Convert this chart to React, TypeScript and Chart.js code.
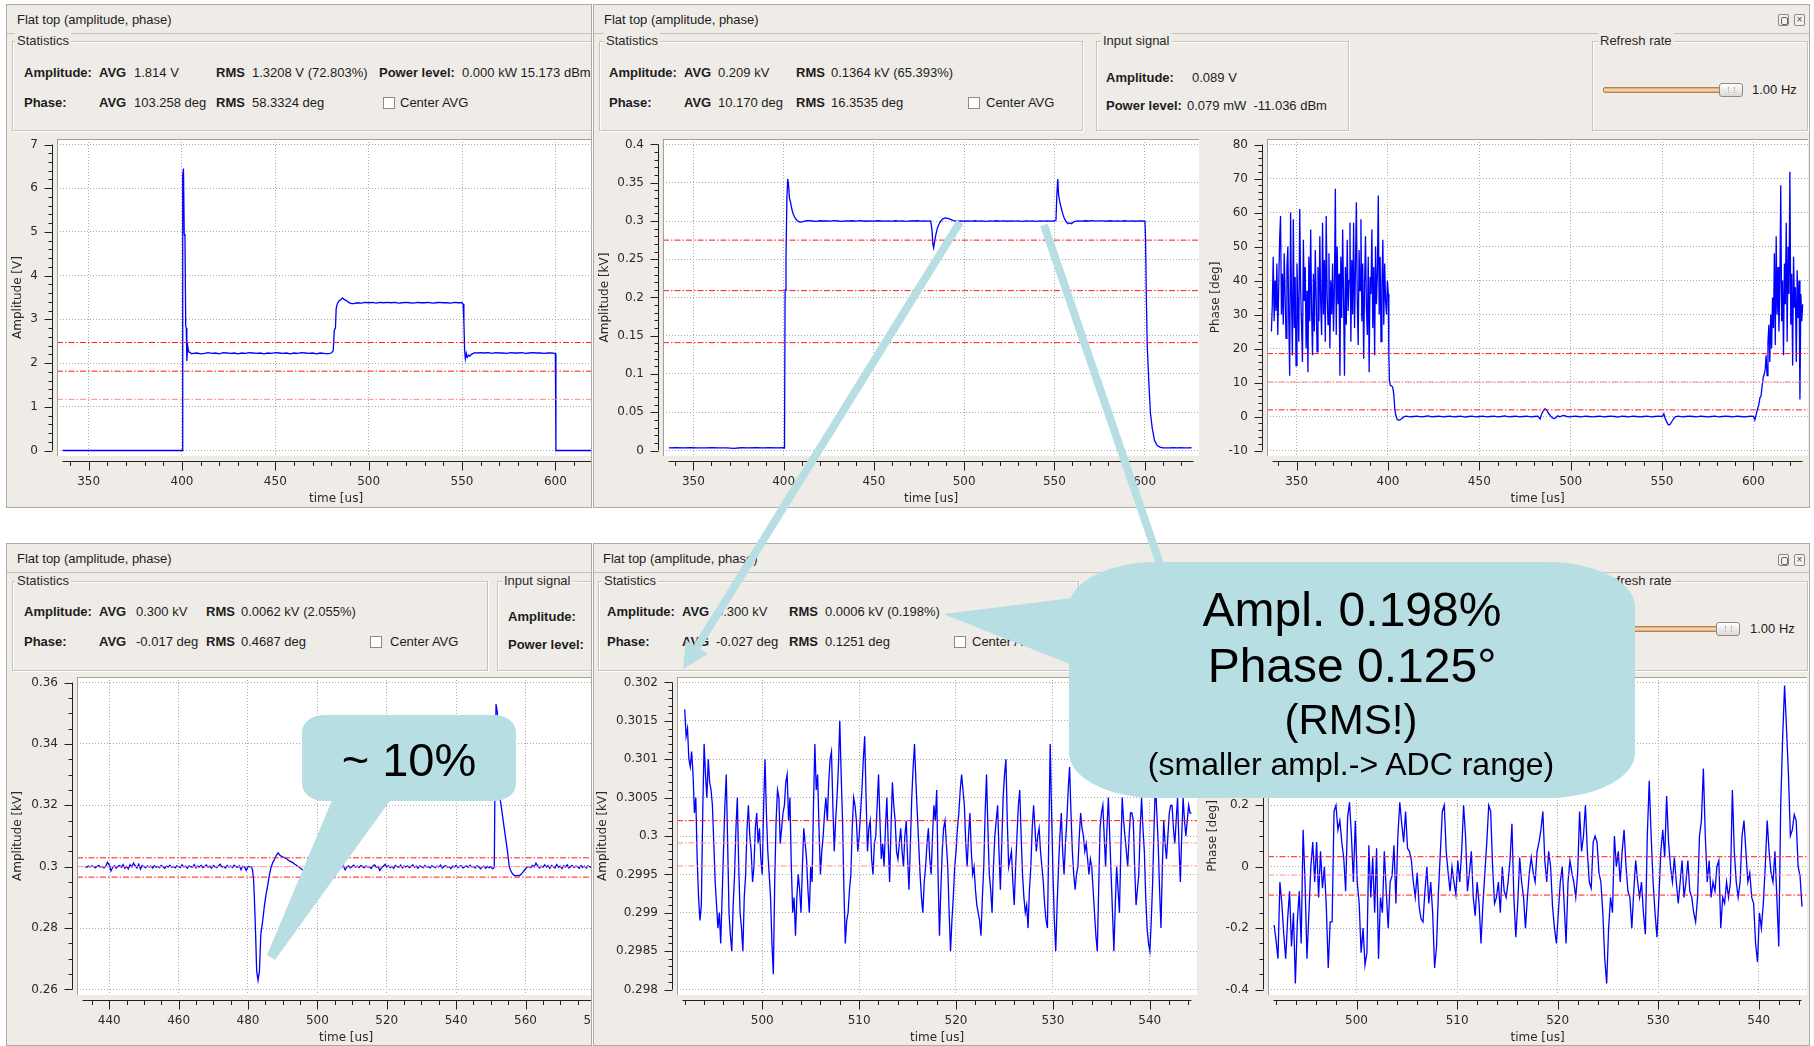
import React, { useEffect, useRef } from 'react';
import { Chart, registerables } from 'chart.js';

Chart.register(...registerables);

const GUI_FONT = '"Liberation Sans", Arial, Helvetica, sans-serif';
const AX_FONT = '"DejaVu Sans", Verdana, sans-serif';
const BG = '#efece8';
const EDGE = '#c6c2bc';
const CALLOUT = '#b7dee3';
Chart.defaults.font.family = AX_FONT;

// ======================= DATA =======================
// ---- top-left: Amplitude [V] ----
const TL_Y_TICKS = [0, 1, 2, 3, 4, 5, 6, 7];
const TL_X_TICKS = [350, 400, 450, 500, 550, 600, 650];
const TL_LEVELS = [2.47, 1.814, 1.17];
const TL_EDGE1_T = [336, 400.2, 400.4, 400.8, 401.2, 401.6, 402.0, 402.3, 402.6, 403.0, 403.4, 403.8, 404.5, 405.2, 406];
const TL_EDGE1_V = [0, 0, 6.30, 6.45, 4.95, 4.90, 2.85, 2.80, 2.05, 2.40, 2.30, 2.25, 2.24, 2.21, 2.22];
const TL_FLAT1 = [2.23, 2.21, 2.22, 2.24, 2.22, 2.23, 2.21, 2.24, 2.23, 2.22, 2.23, 2.21, 2.23, 2.22, 2.24, 2.23, 2.22, 2.23, 2.21, 2.23, 2.22, 2.24, 2.23, 2.22, 2.23, 2.21, 2.23, 2.22, 2.24, 2.23, 2.22, 2.23, 2.21, 2.23, 2.22, 2.21, 2.23];
const TL_EDGE2_T = [481, 481.6, 482.2, 482.6, 483.2, 484, 485, 486, 487, 488, 489, 490, 491, 492];
const TL_EDGE2_V = [2.28, 2.75, 2.80, 3.25, 3.35, 3.42, 3.45, 3.49, 3.45, 3.43, 3.40, 3.37, 3.36, 3.36];
const TL_FLAT2 = [3.38, 3.37, 3.39, 3.38, 3.39, 3.37, 3.39, 3.38, 3.39, 3.38, 3.39, 3.37, 3.38, 3.39, 3.38, 3.37, 3.39, 3.38, 3.38, 3.39, 3.37, 3.38, 3.39, 3.38, 3.38, 3.37, 3.39, 3.38, 3.38];
const TL_EDGE3_T = [550.6, 551.0, 551.4, 551.8, 552.3, 552.8, 553.5, 554.2, 555, 556, 557];
const TL_EDGE3_V = [3.35, 2.95, 2.30, 2.10, 2.22, 2.13, 2.18, 2.16, 2.20, 2.22, 2.24];
const TL_FLAT3 = [2.23, 2.24, 2.23, 2.24, 2.22, 2.24, 2.23, 2.23, 2.22, 2.24, 2.23, 2.23, 2.24, 2.22, 2.23, 2.24, 2.23, 2.23, 2.22, 2.23, 2.23, 2.22];
const TL_EDGE4_T = [600.3, 629];
const TL_EDGE4_V = [0, 0];

// ---- top-middle: Amplitude [kV] ----
const TM_Y_TICKS = [0, 0.05, 0.1, 0.15, 0.2, 0.25, 0.3, 0.35, 0.4];
const TM_X_TICKS = [350, 400, 450, 500, 550, 600];
const TM_LEVELS = [0.275, 0.209, 0.141];
const TM_BASE1 = [0.0035, 0.0036, 0.0034, 0.0036, 0.0035, 0.0034, 0.0036, 0.0035, 0.0034, 0.0028, 0.0036, 0.0035, 0.0036, 0.0034, 0.0036, 0.0035];
const TM_EDGE1_T = [399.8, 400.2, 400.5, 400.8, 401.3, 401.8, 402.3, 402.8, 403.2, 403.8, 404.5, 405.3, 406.3, 407.3, 408.5, 410];
const TM_EDGE1_V = [0.0036, 0.0030, 0.02, 0.21, 0.25, 0.33, 0.355, 0.345, 0.33, 0.325, 0.316, 0.309, 0.304, 0.301, 0.299, 0.2985];
const TM_FLAT1 = [0.3000, 0.3005, 0.3000, 0.2995, 0.3003, 0.3000, 0.3002, 0.2998, 0.3004, 0.3000, 0.2996, 0.3002, 0.3000, 0.3003, 0.2998, 0.3004, 0.3000, 0.2997, 0.3002, 0.2998, 0.3003, 0.3000, 0.2998, 0.3002, 0.2999, 0.3003, 0.2998, 0.3001, 0.2996, 0.3002, 0.3000, 0.3003, 0.2999, 0.3001, 0.2999];
const TM_EDGE2_T = [481.5, 482.2, 482.7, 483.1, 483.6, 484.3, 485.2, 486.5, 488, 489.5, 491, 492.5, 494, 496];
const TM_EDGE2_V = [0.3000, 0.288, 0.270, 0.265, 0.272, 0.282, 0.291, 0.298, 0.3025, 0.304, 0.3035, 0.302, 0.3005, 0.2998];
const TM_FLAT2 = [0.3002, 0.2997, 0.3001, 0.2999, 0.3003, 0.2998, 0.3002, 0.2996, 0.3001, 0.2999, 0.3003, 0.2998, 0.3001, 0.2997, 0.3002, 0.2999, 0.3001, 0.2996, 0.3002, 0.2999, 0.3001, 0.2995, 0.3001, 0.2999, 0.3002, 0.2998, 0.3000];
const TM_EDGE3_T = [550.9, 551.4, 551.9, 552.3, 553, 553.8, 554.7, 555.6, 556.6, 557.6, 558.6, 559.6, 560.5, 561.5];
const TM_EDGE3_V = [0.3012, 0.335, 0.355, 0.335, 0.325, 0.317, 0.309, 0.303, 0.299, 0.2965, 0.2975, 0.2965, 0.2985, 0.2995];
const TM_FLAT3 = [0.3002, 0.2998, 0.3003, 0.3000, 0.3004, 0.2998, 0.3002, 0.3001, 0.2997, 0.3003, 0.2999, 0.3002, 0.2998, 0.3003, 0.2999, 0.3001, 0.2997, 0.3002, 0.3000];
const TM_EDGE4_T = [600.2, 600.5, 601.0, 601.5, 602.3, 603.2, 604.2, 605.5, 607, 608.5, 610];
const TM_EDGE4_V = [0.2995, 0.280, 0.195, 0.135, 0.092, 0.050, 0.030, 0.013, 0.0065, 0.0045, 0.0036];
const TM_BASE2 = [0.0035, 0.0034, 0.0036, 0.0035, 0.0036, 0.0034, 0.0035, 0.0036];

// ---- top-right: Phase [deg] ----
const TR_Y_TICKS = [-10, 0, 10, 20, 30, 40, 50, 60, 70, 80];
const TR_X_TICKS = [350, 400, 450, 500, 550, 600];
const TR_LEVELS = [18.5, 10.17, 1.95];
const TR_NOISE1 = [25, 33, 47, 28, 40, 31, 45, 24, 38, 52,
  59, 30, 42, 27, 48, 36, 23, 44, 50, 29,
  12, 60, 35, 18, 58, 26, 41, 15, 45, 33,
  22, 61, 38, 27, 16, 52, 34, 44, 20, 37,
  13, 47, 28, 55, 31, 18, 42, 25, 49, 35,
  19, 44, 28, 53, 33, 24, 57, 30, 46, 22,
  59, 36, 27, 48, 20, 40, 30, 45, 25, 38,
  67, 24, 50, 33, 42, 12, 47, 29, 55, 35,
  12, 44, 27, 52, 31, 40, 57, 22, 46, 30,
  57, 26, 43, 63, 34, 21, 49, 37, 58, 28,
  45, 17, 39, 53, 32, 24, 47, 13, 41, 36,
  55, 26, 44, 18, 50, 33, 42, 65, 30, 47,
  22, 38, 52, 27, 45, 34, 30, 40, 36];
const TR_EDGE1_T = [400.5, 400.8, 401.3, 402, 402.6, 403.2, 403.7, 404.2, 405, 406, 407, 408, 409];
const TR_EDGE1_V = [18, 10.5, 9.2, 9.0, 8.6, 6.5, 2.5, 0.5, -0.8, -1.1, -0.9, -0.4, 0.0];
const TR_FLAT1 = [0.1, -0.1, 0.0, 0.1, -0.1, 0.0, 0.2, -0.1, 0.0, 0.1, -0.1, 0.0, 0.1, -0.1, 0.0, 0.1, -0.2, 0.0, 0.1, -0.1, 0.0, 0.1, -0.1, 0.0, 0.1, -0.1, 0.0, 0.2, -0.1, 0.0, 0.1, -0.1, 0.0, 0.1, -0.1, 0.0, 0.1];
const TR_EDGE2_T = [483.3, 484, 485, 486, 487, 488, 489, 490, 491, 492, 493];
const TR_EDGE2_V = [-0.7, 0.6, 1.6, 2.3, 1.8, 0.8, 0.2, -0.4, -0.6, -0.3, 0.2];
const TR_FLAT2 = [-0.1, 0.3, 0.0, -0.1, 0.1, 0.0, -0.1, 0.1, 0.0, -0.1, 0.0, 0.1, -0.1, 0.0, 0.1, 0.0, -0.2, 0.1, 0.0, -0.1, 0.1, 0.0, -0.1, 0.0, 0.1, -0.1, 0.0, 0.1, 0.0];
const TR_EDGE3_T = [551, 551.5, 552.5, 553.5, 554.5, 555.5, 556.5, 557.5];
const TR_EDGE3_V = [0.8, -0.2, -1.5, -2.5, -2.3, -1.4, -0.5, 0.0];
const TR_FLAT3 = [0.1, -0.1, 0.0, 0.1, 0.0, -0.1, 0.1, 0.0, -0.1, 0.0, 0.1, -0.1, 0.0, 0.1, 0.0, -0.1, 0.1, 0.0, -0.1, 0.0, 0.1];
const TR_EDGE4_T = [600.2, 600.8, 601.5, 602.2, 603, 603.6, 604.2, 604.8, 605.4, 606];
const TR_EDGE4_V = [0.0, -1.0, 0.5, 2.0, 3.5, 5.5, 6.0, 9.0, 11.5, 12.5];
const TR_NOISE2 = [14, 18, 12, 22, 27, 16, 30, 20, 35, 26,
  48, 21, 53, 30, 44, 25, 38, 68, 28, 40,
  18, 45, 33, 57, 22, 50, 36, 72, 27, 42,
  15, 47, 32, 38, 16, 43, 29, 40, 5, 36,
  28, 33];

// ---- bottom-left: Amplitude [kV] zoom ----
const BL_Y_TICKS = [0.26, 0.28, 0.3, 0.32, 0.34, 0.36];
const BL_X_TICKS = [440, 460, 480, 500, 520, 540, 560, 580];
const BL_LEVELS = [0.3029, 0.3000, 0.2966];
const BL_NOISE1 = [0.3000, 0.2998, 0.3002, 0.2999, 0.3003, 0.3000, 0.2997, 0.3001, 0.3004, 0.2999,
  0.3001, 0.2996, 0.3002, 0.3014, 0.3006, 0.2986, 0.2998, 0.3003, 0.2995, 0.3001,
  0.3004, 0.2998, 0.3007, 0.2995, 0.3001, 0.2993, 0.3006, 0.2999, 0.3012, 0.3003,
  0.2996, 0.3008, 0.2992, 0.3004, 0.3000, 0.2997, 0.3003, 0.2999, 0.3002, 0.2996,
  0.3003, 0.2998, 0.3001, 0.2997, 0.3004, 0.3000, 0.2995, 0.3002, 0.2999, 0.3005,
  0.2998, 0.3001, 0.2996, 0.3003, 0.3000, 0.2997, 0.3006, 0.2999, 0.3002, 0.2995,
  0.3003, 0.3000, 0.2998, 0.3007, 0.2996, 0.3002, 0.2999, 0.3004, 0.2997, 0.3001,
  0.3006, 0.2998, 0.3002, 0.2995, 0.3004, 0.3000, 0.2997, 0.3003, 0.3008, 0.2999,
  0.3001, 0.2996, 0.3004, 0.2999, 0.3002, 0.2997, 0.3005, 0.3000, 0.2998, 0.3003,
  0.2990, 0.3002, 0.2999, 0.2988, 0.3001, 0.3000, 0.2999];
const BL_EDGE1_T = [481.3, 481.6, 481.9, 482.2, 482.5, 482.9, 483.3, 483.7, 484.2, 484.7, 485.2, 485.7, 486.2, 486.7, 487.2, 487.7, 488.2, 488.7, 489.2, 489.8, 490.5, 491.2, 492, 492.8, 493.5, 494.2, 495, 495.7, 496.4, 497, 497.6];
const BL_EDGE1_V = [0.2990, 0.2960, 0.2880, 0.2780, 0.2660, 0.2630, 0.2660, 0.2780, 0.2820, 0.2870, 0.2910, 0.2940, 0.2975, 0.3000, 0.3015, 0.3025, 0.3038, 0.3045, 0.3037, 0.3033, 0.3030, 0.3025, 0.3018, 0.3014, 0.3008, 0.3003, 0.2996, 0.2990, 0.2985, 0.2992, 0.2998];
const BL_NOISE2 = [0.3001, 0.2997, 0.3003, 0.2998, 0.3005, 0.2996, 0.3002, 0.3000, 0.2993, 0.3004,
  0.3000, 0.2997, 0.3006, 0.2999, 0.3002, 0.2995, 0.3001, 0.3004, 0.2998, 0.3003,
  0.2990, 0.2999, 0.3003, 0.2996, 0.3001, 0.3005, 0.2998, 0.3002, 0.2997, 0.3004,
  0.3001, 0.2996, 0.3003, 0.2999, 0.3000, 0.2994, 0.3002, 0.3006, 0.2998, 0.3001,
  0.2988, 0.2996, 0.3002, 0.3008, 0.2999, 0.3003, 0.2997, 0.3001, 0.2995, 0.3004,
  0.3000, 0.2998, 0.3005, 0.2996, 0.3002, 0.2999, 0.3003, 0.2997, 0.3001, 0.3006,
  0.2998, 0.3002, 0.2995, 0.3003, 0.3000, 0.2997, 0.3004, 0.2999, 0.3001, 0.2996,
  0.3003, 0.3000, 0.2997, 0.3002, 0.2999, 0.3005, 0.2996, 0.3001, 0.3003, 0.2998,
  0.3000, 0.2994, 0.3002, 0.2999, 0.3004, 0.2997, 0.3001, 0.3003, 0.2996, 0.3000,
  0.3002, 0.2998, 0.3005, 0.2999, 0.3001, 0.2996, 0.3003, 0.3000, 0.2993, 0.2999,
  0.3002, 0.2995, 0.3001, 0.2997, 0.3000, 0.2993, 0.2998];
const BL_EDGE2_T = [551.2, 551.5, 551.9, 552.3, 552.7, 553.2, 553.8, 554.3, 554.8, 555.3, 555.8, 556.3, 556.8, 557.3, 557.8, 558.3, 558.8, 559.3, 559.8, 560.3];
const BL_EDGE2_V = [0.3300, 0.3530, 0.3500, 0.3350, 0.3220, 0.3180, 0.3130, 0.3090, 0.3050, 0.3000, 0.2985, 0.2976, 0.2972, 0.2970, 0.2972, 0.2971, 0.2976, 0.2983, 0.2990, 0.2997];
const BL_NOISE3 = [0.3001, 0.2997, 0.3004, 0.2999, 0.3012, 0.3003, 0.2996, 0.3002, 0.2998, 0.3006,
  0.2999, 0.3003, 0.2995, 0.3004, 0.3000, 0.2996, 0.3007, 0.2998, 0.3002, 0.2994,
  0.3003, 0.2999, 0.3006, 0.2996, 0.3001, 0.3004, 0.2997, 0.3002, 0.3000, 0.2995,
  0.3004, 0.2998, 0.3002, 0.2996, 0.3003, 0.3000, 0.2997, 0.3005, 0.2999, 0.3001,
  0.2996, 0.3003, 0.3000, 0.2998, 0.3004, 0.2999, 0.3001, 0.2997, 0.3002, 0.3000,
  0.2999];

// ---- bottom-middle: Amplitude [kV] flat-top noise ----
const BM_Y_TICKS = [0.298, 0.2985, 0.299, 0.2995, 0.3, 0.3005, 0.301, 0.3015, 0.302];
const BM_X_TICKS = [500, 510, 520, 530, 540];
const BM_LEVELS = [0.30020, 0.29991, 0.29961];
const BM_T0 = 492.0;
const BM_DT = 0.1429;
const BM_VALUES = [
  0.30165, 0.3013, 0.3014, 0.3010, 0.3009, 0.3011, 0.3008, 0.3003, 0.3005, 0.2997, 0.2992, 0.2989, 0.2991, 0.3003, 0.3012, 0.3008, 0.3005, 0.3010, 0.3007, 0.3006,
  0.3004, 0.2999, 0.2994, 0.2991, 0.2988, 0.2990, 0.2986, 0.2992, 0.2998, 0.3004, 0.3008, 0.2999, 0.2990, 0.2987, 0.2985, 0.2991, 0.2995, 0.3001, 0.3005, 0.2996,
  0.2990, 0.2988, 0.2985, 0.2992, 0.2995, 0.3001, 0.3004, 0.3000, 0.2998, 0.2994, 0.2996, 0.3001, 0.3003, 0.2999, 0.3001, 0.2997, 0.2995, 0.3004, 0.3010, 0.3003,
  0.2998, 0.2995, 0.2992, 0.2986, 0.2982, 0.2994, 0.3002, 0.3006, 0.3005, 0.2999, 0.3001, 0.3003, 0.3004, 0.3007, 0.3008, 0.3002, 0.3005, 0.2996, 0.2990, 0.2992,
  0.2987, 0.2992, 0.2995, 0.2993, 0.2990, 0.2996, 0.3001, 0.2999, 0.2997, 0.2993, 0.2990, 0.2996, 0.2994, 0.3004, 0.3012, 0.3006, 0.3008, 0.3001, 0.2995, 0.2998,
  0.3000, 0.3003, 0.3005, 0.3002, 0.3007, 0.3010, 0.3011, 0.3004, 0.2998, 0.3002, 0.3005, 0.3009, 0.3015, 0.3008, 0.3002, 0.2993, 0.2986, 0.2989, 0.2990, 0.2993,
  0.2995, 0.3001, 0.3005, 0.3004, 0.3002, 0.2998, 0.3000, 0.3003, 0.3006, 0.3010, 0.3013, 0.3005, 0.2998, 0.3001, 0.3002, 0.2997, 0.2995, 0.2999, 0.3000, 0.3004,
  0.3008, 0.3002, 0.2997, 0.2999, 0.2996, 0.3001, 0.3005, 0.2999, 0.2994, 0.3001, 0.3007, 0.3004, 0.3002, 0.2998, 0.2997, 0.2999, 0.3001, 0.2998, 0.2996, 0.3000,
  0.3002, 0.2997, 0.2993, 0.2999, 0.3005, 0.3009, 0.3012, 0.3007, 0.3003, 0.2999, 0.2995, 0.2992, 0.2990, 0.2994, 0.2996, 0.2999, 0.3001, 0.2997, 0.2995, 0.3000,
  0.3004, 0.3002, 0.3006, 0.2995, 0.2987, 0.2993, 0.2998, 0.3001, 0.3002, 0.2999, 0.2996, 0.2990, 0.2985, 0.2989, 0.2992, 0.2996, 0.2998, 0.3001, 0.3003, 0.3006,
  0.3008, 0.3006, 0.3004, 0.2999, 0.2996, 0.3000, 0.3003, 0.2998, 0.2995, 0.2996, 0.2993, 0.2991, 0.2990, 0.2989, 0.2987, 0.2992, 0.2996, 0.3003, 0.3008, 0.3001,
  0.2995, 0.2993, 0.2990, 0.2996, 0.3000, 0.3002, 0.3004, 0.2998, 0.2993, 0.2999, 0.3005, 0.3008, 0.3010, 0.3002, 0.2996, 0.2997, 0.2998, 0.2994, 0.2991, 0.2996,
  0.3000, 0.3004, 0.3006, 0.3000, 0.2995, 0.2992, 0.2990, 0.2991, 0.2988, 0.2993, 0.2996, 0.3001, 0.3004, 0.3001, 0.2998, 0.3000, 0.3001, 0.2998, 0.2996, 0.2994,
  0.2991, 0.2989, 0.2988, 0.3000, 0.3012, 0.3003, 0.2995, 0.2989, 0.2985, 0.2991, 0.2996, 0.3000, 0.3003, 0.2998, 0.2995, 0.2999, 0.3002, 0.3006, 0.3009, 0.3003,
  0.2998, 0.2995, 0.2993, 0.2995, 0.2996, 0.3000, 0.3003, 0.3001, 0.3000, 0.2998, 0.2999, 0.2997, 0.2995, 0.2997, 0.2996, 0.2993, 0.2990, 0.2987, 0.2985, 0.2993,
  0.3001, 0.3003, 0.3004, 0.3000, 0.2996, 0.3001, 0.3005, 0.3000, 0.2995, 0.2990, 0.2985, 0.2991, 0.2996, 0.2993, 0.2990, 0.2998, 0.3005, 0.3002, 0.3000, 0.2998,
  0.2996, 0.3000, 0.3003, 0.3003, 0.3002, 0.2996, 0.2991, 0.2993, 0.2995, 0.3001, 0.3005, 0.3001, 0.2998, 0.2992, 0.2988, 0.2986, 0.2985, 0.2989, 0.2994, 0.3001,
  0.3007, 0.3003, 0.2999, 0.2993, 0.2988, 0.2996, 0.3002, 0.2999, 0.2997, 0.3000, 0.3003, 0.3004, 0.3004, 0.3001, 0.2999, 0.3002, 0.3005, 0.2999, 0.2994, 0.3000,
  0.3005, 0.3002, 0.3000, 0.3002, 0.3004, 0.3003, 0.3003];

// ---- bottom-right: Phase [deg] flat-top noise ----
const BR_Y_TICKS = [-0.4, -0.2, 0, 0.2, 0.4, 0.6];
const BR_X_TICKS = [500, 510, 520, 530, 540];
const BR_LEVELS = [0.0326, -0.027, -0.0924];
const BR_T0 = 491.8;
const BR_DT = 0.1923;
const BR_VALUES = [-0.19, -0.24, -0.30, -0.05, -0.12, -0.22, -0.30, -0.17, -0.08, -0.26,
  -0.15, -0.38, -0.18, -0.08, -0.25, 0.12, -0.05, -0.30, -0.15, 0.0,
  0.08, -0.05, 0.08, -0.10, 0.05, -0.07, 0.0, -0.13, -0.33, -0.18,
  -0.18, 0.18, 0.20, 0.12, 0.15, 0.08, 0.03, -0.08, 0.16, 0.21,
  0.10, -0.05, 0.15, -0.05, -0.12, -0.28, -0.20, -0.32, -0.28, 0.07,
  -0.10, 0.03, -0.15, 0.06, -0.30, -0.10, -0.15, 0.05, -0.08, -0.20,
  -0.05, -0.03, 0.07, -0.12, 0.10, 0.21, 0.14, 0.08, 0.18, 0.06,
  0.05, 0.02, -0.05, -0.10, -0.02, -0.13, -0.17, -0.18, -0.08, 0.0,
  -0.12, -0.05, -0.15, -0.33, -0.26, -0.08, 0.05, 0.18, 0.20, 0.05,
  -0.02, -0.08, 0.0, -0.05, -0.09, 0.02, -0.05, 0.05, 0.20, 0.10,
  -0.08, -0.02, 0.05, -0.10, -0.16, -0.05, -0.12, -0.25, -0.12, -0.02,
  0.08, 0.20, 0.18, 0.0, -0.12, -0.10, -0.05, -0.15, 0.0, -0.08,
  -0.10, -0.05, 0.02, 0.14, -0.10, -0.23, -0.12, 0.03, -0.05, -0.10,
  -0.20, -0.10, -0.02, 0.03, -0.02, -0.05, 0.05, 0.08, 0.12, 0.18,
  0.02, -0.05, 0.05, 0.0, -0.13, -0.20, -0.25, -0.15, -0.05, 0.0,
  -0.12, -0.25, -0.05, 0.02, -0.02, -0.05, -0.10, -0.02, 0.18, 0.05,
  0.10, 0.20, 0.05, -0.05, -0.07, 0.08, 0.10, 0.08, -0.02, -0.05,
  -0.15, -0.30, -0.38, -0.20, -0.10, -0.15, 0.10, 0.0, 0.05, -0.05,
  0.05, 0.12, 0.0, -0.08, -0.10, -0.20, -0.08, 0.02, -0.05, -0.10,
  -0.05, -0.15, -0.22, 0.10, 0.28, 0.10, -0.05, -0.15, -0.23, -0.10,
  0.05, 0.12, 0.03, 0.23, 0.08, 0.0, -0.05, 0.03, -0.05, -0.12,
  -0.05, 0.02, -0.10, -0.05, 0.02, -0.08, -0.10, -0.15, -0.18, -0.10,
  0.10, 0.15, 0.32, 0.10, -0.05, 0.02, -0.10, -0.05, -0.08, 0.0,
  0.02, -0.20, -0.10, -0.12, -0.05, -0.10, -0.05, 0.25, 0.05, -0.05,
  -0.10, -0.05, 0.10, 0.15, 0.05, -0.05, -0.02, -0.10, -0.12, -0.25,
  -0.31, -0.15, -0.20, -0.12, 0.0, 0.15, 0.05, -0.02, -0.05, 0.05,
  -0.10, -0.26, 0.20, 0.42, 0.59, 0.45, 0.30, 0.10, 0.12, 0.17,
  0.15, 0.0, -0.03, -0.13];

// ======================= HELPERS =======================
type Pt = { x: number; y: number };
const pairs = (ts: number[], vs: number[]): Pt[] => {
  const n = Math.min(ts.length, vs.length);
  const out: Pt[] = [];
  for (let i = 0; i < n; i++) out.push({ x: ts[i], y: vs[i] });
  return out;
};
const stepped = (t0: number, dt: number, vs: number[]): Pt[] =>
  vs.map((v, i) => ({ x: Math.round((t0 + i * dt) * 1e4) / 1e4, y: v }));
const fmt = (v: number) => String(parseFloat(v.toFixed(6)));

interface Spec {
  canvas: { x: number; y: number; w: number; h: number };
  yW: number; xH: number; padTop: number;
  xRange: [number, number]; yRange: [number, number];
  xTicks: number[]; yTicks: number[]; xMinor: number; yMinor: number;
  yTitle: string; yTitlePad: number;
  levels: number[]; levelColors: string[];
  series: Pt[];
}

const TL_SPEC: Spec = {
  canvas: { x: 6, y: 131, w: 609, h: 376 }, yW: 51, xH: 51, padTop: 8,
  xRange: [336, 629], yRange: [0, 7], xTicks: TL_X_TICKS, yTicks: TL_Y_TICKS, xMinor: 10, yMinor: 0.2,
  yTitle: 'Amplitude [V]', yTitlePad: 5, levels: TL_LEVELS, levelColors: ['#ff1a1a', '#ff1a1a', '#ff8a8a'],
  series: [
    ...pairs(TL_EDGE1_T, TL_EDGE1_V), ...stepped(408, 2, TL_FLAT1),
    ...pairs(TL_EDGE2_T, TL_EDGE2_V), ...stepped(494, 2, TL_FLAT2),
    ...pairs(TL_EDGE3_T, TL_EDGE3_V), ...stepped(558, 2, TL_FLAT3),
    ...pairs(TL_EDGE4_T, TL_EDGE4_V),
  ],
};
const TM_SPEC: Spec = {
  canvas: { x: 596, y: 131, w: 603, h: 376 }, yW: 67, xH: 51, padTop: 8,
  xRange: [336.2, 627.1], yRange: [0, 0.4], xTicks: TM_X_TICKS, yTicks: TM_Y_TICKS, xMinor: 10, yMinor: 0.01,
  yTitle: 'Amplitude [kV]', yTitlePad: 1.5, levels: TM_LEVELS, levelColors: ['#ff1a1a', '#ff1a1a', '#ff1a1a'],
  series: [
    ...stepped(336.4, 4, TM_BASE1), ...pairs(TM_EDGE1_T, TM_EDGE1_V), ...stepped(412, 2, TM_FLAT1),
    ...pairs(TM_EDGE2_T, TM_EDGE2_V), ...stepped(498, 2, TM_FLAT2),
    ...pairs(TM_EDGE3_T, TM_EDGE3_V), ...stepped(563, 2, TM_FLAT3),
    ...pairs(TM_EDGE4_T, TM_EDGE4_V), ...stepped(612, 2, TM_BASE2),
  ],
};
const TR_SPEC: Spec = {
  canvas: { x: 1205, y: 131, w: 603, h: 376 }, yW: 62, xH: 51, padTop: 8,
  xRange: [336.8, 626.9], yRange: [-10, 80], xTicks: TR_X_TICKS, yTicks: TR_Y_TICKS, xMinor: 10, yMinor: 2,
  yTitle: 'Phase [deg]', yTitlePad: 3.5, levels: TR_LEVELS, levelColors: ['#ff1a1a', '#ff8a8a', '#ff1a1a'],
  series: [
    ...stepped(336.2, 0.5, TR_NOISE1), ...pairs(TR_EDGE1_T, TR_EDGE1_V), ...stepped(410, 2, TR_FLAT1),
    ...pairs(TR_EDGE2_T, TR_EDGE2_V), ...stepped(494, 2, TR_FLAT2),
    ...pairs(TR_EDGE3_T, TR_EDGE3_V), ...stepped(559, 2, TR_FLAT3),
    ...pairs(TR_EDGE4_T, TR_EDGE4_V), ...stepped(606.5, 0.5, TR_NOISE2),
  ],
};
const BL_SPEC: Spec = {
  canvas: { x: 6, y: 669, w: 609, h: 377 }, yW: 71, xH: 51, padTop: 8,
  xRange: [432.3, 584.2], yRange: [0.26, 0.36], xTicks: BL_X_TICKS, yTicks: BL_Y_TICKS, xMinor: 5, yMinor: 0.005,
  yTitle: 'Amplitude [kV]', yTitlePad: 4.7, levels: BL_LEVELS, levelColors: ['#ff1a1a', '#ff9090', '#ff1a1a'],
  series: [
    ...stepped(433, 0.5, BL_NOISE1), ...pairs(BL_EDGE1_T, BL_EDGE1_V), ...stepped(498, 0.5, BL_NOISE2),
    ...pairs(BL_EDGE2_T, BL_EDGE2_V), ...stepped(561, 0.5, BL_NOISE3),
  ],
};
const BM_SPEC: Spec = {
  canvas: { x: 596, y: 669, w: 601, h: 377 }, yW: 81, xH: 51, padTop: 8,
  xRange: [491.77, 544.31], yRange: [0.298, 0.302], xTicks: BM_X_TICKS, yTicks: BM_Y_TICKS, xMinor: 2, yMinor: 0.0001,
  yTitle: 'Amplitude [kV]', yTitlePad: 0, levels: BM_LEVELS, levelColors: ['#ff1a1a', '#ff9090', '#ff9090'],
  series: stepped(BM_T0, BM_DT, BM_VALUES),
};
const BR_SPEC: Spec = {
  canvas: { x: 1205, y: 669, w: 602, h: 377 }, yW: 63, xH: 51, padTop: 8,
  xRange: [491.74, 544.25], yRange: [-0.4, 0.6], xTicks: BR_X_TICKS, yTicks: BR_Y_TICKS, xMinor: 2, yMinor: 0.05,
  yTitle: 'Phase [deg]', yTitlePad: 0.5, levels: BR_LEVELS, levelColors: ['#ff1a1a', '#ff9090', '#ff1a1a'],
  series: stepped(BR_T0, BR_DT, BR_VALUES),
};

function minorVals(lo: number, hi: number, step: number, majors: number[]) {
  const out: number[] = [];
  const k0 = Math.ceil(lo / step - 1e-6);
  const k1 = Math.floor(hi / step + 1e-6);
  for (let k = k0; k <= k1; k++) {
    const v = k * step;
    if (majors.some((m) => Math.abs(m - v) < step * 1e-3)) continue;
    out.push(v);
  }
  return out;
}

const qwtPlugin = {
  id: 'qwt',
  beforeDraw(chart: any) {
    const { ctx, chartArea: a } = chart;
    ctx.save();
    ctx.fillStyle = '#ffffff';
    ctx.fillRect(a.left, a.top, a.right - a.left, a.bottom - a.top);
    ctx.restore();
  },
  afterDraw(chart: any, _args: any, o: any) {
    const { ctx, chartArea: a } = chart;
    const xs = chart.scales.x;
    const ys = chart.scales.y;
    const ln = (x1: number, y1: number, x2: number, y2: number) => {
      ctx.beginPath(); ctx.moveTo(x1, y1); ctx.lineTo(x2, y2); ctx.stroke();
    };
    ctx.save();
    ctx.lineWidth = 1;
    ctx.strokeStyle = '#a29e99';
    ln(a.left + 0.5, a.bottom, a.left + 0.5, a.top + 0.5);
    ln(a.left, a.top + 0.5, a.right, a.top + 0.5);
    ctx.strokeStyle = '#202020';
    // y axis
    const bx = Math.round(a.left - 5) + 0.5;
    const yt = ys.getPixelForValue(o.yRange[1]);
    const yb = ys.getPixelForValue(o.yRange[0]);
    ln(bx, yt, bx, yb);
    o.yTicks.forEach((v: number) => {
      if (v < o.yRange[0] - 1e-9 || v > o.yRange[1] + 1e-9) return;
      const p = Math.round(ys.getPixelForValue(v)) + 0.5;
      ln(bx - 8, p, bx, p);
    });
    minorVals(o.yRange[0], o.yRange[1], o.yMinor, o.yTicks).forEach((v) => {
      const p = Math.round(ys.getPixelForValue(v)) + 0.5;
      ln(bx - 4, p, bx, p);
    });
    // x axis
    const by = Math.round(a.bottom + 5) + 0.5;
    const xl = xs.getPixelForValue(o.xRange[0]);
    const xr = xs.getPixelForValue(o.xRange[1]);
    ln(xl, by, xr, by);
    o.xTicks.forEach((v: number) => {
      if (v < o.xRange[0] || v > o.xRange[1]) return;
      const p = Math.round(xs.getPixelForValue(v)) + 0.5;
      ln(p, by, p, by + 9);
    });
    minorVals(o.xRange[0], o.xRange[1], o.xMinor, o.xTicks).forEach((v) => {
      const p = Math.round(xs.getPixelForValue(v)) + 0.5;
      ln(p, by, p, by + 4.5);
    });
    ctx.restore();
  },
};

function QwtChart({ spec }: { spec: Spec }) {
  const ref = useRef<HTMLCanvasElement | null>(null);
  useEffect(() => {
    const s = spec;
    const cv = ref.current;
    if (!cv) return;
    const plotW = s.canvas.w - s.yW;
    const plotH = s.canvas.h - s.padTop - s.xH;
    const xe = (5.5 * (s.xRange[1] - s.xRange[0])) / (plotW - 11);
    const ye = (5.5 * (s.yRange[1] - s.yRange[0])) / (plotH - 11);
    const xmin = s.xRange[0] - xe;
    const xmax = s.xRange[1] + xe;
    const ymin = s.yRange[0] - ye;
    const ymax = s.yRange[1] + ye;
    const font = { family: AX_FONT, size: 12 };
    const datasets: any[] = s.levels.map((lv, i) => ({
      data: [{ x: xmin, y: lv }, { x: xmax, y: lv }],
      borderColor: s.levelColors[i], borderWidth: 1, borderDash: [6, 2, 1.5, 2],
      pointRadius: 0, order: 0,
    }));
    datasets.push({ data: s.series, borderColor: '#0000ff', borderWidth: 1.3, pointRadius: 0, order: 1, tension: 0 });
    const hidden = 'rgba(0,0,0,0)';
    const chart = new Chart(cv, {
      type: 'line',
      data: { datasets },
      plugins: [qwtPlugin as any],
      options: {
        responsive: false,
        animation: false,
        events: [],
        layout: { padding: { top: s.padTop, left: 0, right: 0, bottom: 0 } },
        plugins: {
          legend: { display: false },
          tooltip: { enabled: false },
          qwt: { xRange: s.xRange, yRange: s.yRange, xTicks: s.xTicks, yTicks: s.yTicks, xMinor: s.xMinor, yMinor: s.yMinor },
        } as any,
        scales: {
          x: {
            type: 'linear', position: 'bottom', min: xmin, max: xmax,
            afterFit: (sc: any) => { sc.height = s.xH; },
            afterBuildTicks: (sc: any) => { sc.ticks = s.xTicks.filter((v) => v >= xmin && v <= xmax).map((v) => ({ value: v })); },
            grid: { color: '#a9a9a9', lineWidth: 1, drawTicks: true, tickLength: 18.3, tickColor: hidden },
            border: { display: false, dash: [1, 2] },
            ticks: { font, color: '#2a2a2a', padding: 0, autoSkip: false, maxRotation: 0, minRotation: 0, callback: (v: any) => fmt(Number(v)) },
            title: { display: true, text: 'time [us]', font, color: '#2a2a2a', padding: { top: 0, bottom: 1.0 } },
          },
          y: {
            type: 'linear', position: 'left', min: ymin, max: ymax,
            afterFit: (sc: any) => { sc.width = s.yW; },
            afterBuildTicks: (sc: any) => { sc.ticks = s.yTicks.filter((v) => v >= ymin && v <= ymax).map((v) => ({ value: v })); },
            grid: { color: '#a9a9a9', lineWidth: 1, drawTicks: true, tickLength: 19, tickColor: hidden },
            border: { display: false, dash: [1, 2] },
            ticks: { font, color: '#2a2a2a', padding: 0, autoSkip: false, callback: (v: any) => fmt(Number(v)) },
            title: { display: true, text: s.yTitle, font, color: '#2a2a2a', padding: { top: s.yTitlePad, bottom: 0 } },
          },
        } as any,
      },
    } as any);
    return () => chart.destroy();
  }, [spec]);
  const c = spec.canvas;
  return <canvas ref={ref} width={c.w} height={c.h} style={{ position: 'absolute', left: c.x, top: c.y, width: c.w, height: c.h }} />;
}

// ======================= GUI =======================
function Clip({ x, y, w, h, children }: any) {
  return (
    <div style={{ position: 'absolute', left: x, top: y, width: w, height: h, overflow: 'hidden' }}>
      <div style={{ position: 'absolute', left: -x, top: -y, width: 1814, height: 1046 }}>{children}</div>
    </div>
  );
}
function Txt({ x, y, t, b, color = '#1c1c1c', bg, size = 13 }: any) {
  return (
    <div style={{ position: 'absolute', left: x, top: y - 8, height: 16, lineHeight: '16px', fontSize: size, fontWeight: b ? 700 : 400, fontFamily: GUI_FONT, whiteSpace: 'pre', color, background: bg, padding: bg ? '0 2px' : 0 }}>{t}</div>
  );
}
function Group({ x, y, w, h, label, lx }: any) {
  return (
    <>
      <div style={{ position: 'absolute', left: x, top: y, width: w, height: h, boxSizing: 'border-box', border: `1px solid ${EDGE}`, boxShadow: '1px 1px 0 #ffffff, inset 1px 1px 0 #ffffff' }} />
      <Txt x={lx - 2} y={y} t={label} bg={BG} color="#2a2a2a" />
    </>
  );
}
function Check({ x, y }: any) {
  return <div style={{ position: 'absolute', left: x, top: y - 6, width: 12, height: 12, boxSizing: 'border-box', border: '1px solid #8e8a85', background: '#ffffff' }} />;
}
function Slider({ x1, x2, hx, y }: any) {
  return (
    <>
      <div style={{ position: 'absolute', left: x1, top: y - 3, width: x2 - x1, height: 6, boxSizing: 'border-box', border: '1px solid #b3844f', borderRadius: 2, background: 'linear-gradient(#d7a370, #f7dfc0 50%, #d7a370)' }} />
      <div style={{ position: 'absolute', left: hx, top: y - 7, width: 24, height: 14, boxSizing: 'border-box', border: '1px solid #8f8c88', borderRadius: 3, background: 'linear-gradient(#ffffff, #dcd9d5)' }}>
        <div style={{ position: 'absolute', left: 8, top: 3, width: 5, height: 6, borderLeft: '1px dotted #a8a8a8', borderRight: '1px dotted #a8a8a8' }} />
      </div>
    </>
  );
}
function Icons({ y }: any) {
  const st: any = { position: 'absolute', top: y - 6, width: 11, height: 12, boxSizing: 'border-box', border: '1px solid #8a8782', borderRadius: 2, background: '#f5f3f0', fontFamily: GUI_FONT, fontSize: 10, lineHeight: '9px', textAlign: 'center', color: '#444' };
  return (
    <>
      <div style={{ ...st, left: 1778 }}><div style={{ position: 'absolute', left: 2, top: 2, width: 5, height: 6, border: '1px solid #666', borderRadius: 2 }} /></div>
      <div style={{ ...st, left: 1794 }}>×</div>
    </>
  );
}
function PanelFrame({ x, y, w, h, title, tx }: any) {
  return (
    <>
      <div style={{ position: 'absolute', left: x, top: y, width: w, height: h, background: BG }} />
      <div style={{ position: 'absolute', left: x, top: y, width: w, height: 30, boxSizing: 'border-box', borderBottom: `1px solid ${EDGE}` }} />
      <Txt x={tx} y={y + 16} t={title} />
    </>
  );
}
function PanelBorder({ x, y, w, h }: any) {
  return <div style={{ position: 'absolute', left: x, top: y, width: w, height: h, boxSizing: 'border-box', border: '1px solid #aeaaa4' }} />;
}

function roundPath(x: number, y: number, w: number, h: number, rx: number, ry: number) {
  return `M${x + rx},${y} H${x + w - rx} A${rx},${ry} 0 0 1 ${x + w},${y + ry} V${y + h - ry} A${rx},${ry} 0 0 1 ${x + w - rx},${y + h} H${x + rx} A${rx},${ry} 0 0 1 ${x},${y + h - ry} V${y + ry} A${rx},${ry} 0 0 1 ${x + rx},${y} Z`;
}

function Overlay() {
  const tf = { fontFamily: GUI_FONT, fill: '#000000', textAnchor: 'middle' as const, dominantBaseline: 'central' as const };
  return (
    <svg width={1814} height={1046} style={{ position: 'absolute', left: 0, top: 0 }}>
      <line x1={960} y1={222} x2={697} y2={647} stroke={CALLOUT} strokeWidth={8} />
      <polygon points="683,669 707.8,653.8 685.7,640.1" fill={CALLOUT} />
      <line x1={1044} y1={225} x2={1162} y2={570} stroke={CALLOUT} strokeWidth={8} />
      <path d={roundPath(1069, 562, 566, 236, 88, 45)} fill={CALLOUT} />
      <polygon points="943,614 1080,597 1080,668" fill={CALLOUT} />
      <path d={roundPath(302, 715, 214, 86, 22, 17)} fill={CALLOUT} />
      <polygon points="333,798 392,798 275,960 267,955" fill={CALLOUT} />
      <text x={409} y={759} fontSize={47} {...tf}>{'~ 10%'}</text>
      <text x={1352} y={609} fontSize={48} {...tf}>{'Ampl. 0.198%'}</text>
      <text x={1352} y={665} fontSize={48} {...tf}>{'Phase 0.125°'}</text>
      <text x={1351} y={719} fontSize={42} {...tf}>{'(RMS!)'}</text>
      <text x={1351} y={764} fontSize={32} {...tf}>{'(smaller ampl.-> ADC range)'}</text>
    </svg>
  );
}

export default function App() {
  return (
    <div style={{ position: 'fixed', left: 0, top: 0, width: 1814, height: 1046, background: '#ffffff', overflow: 'hidden' }}>
      {/* ---------- top-left panel ---------- */}
      <Clip x={6} y={4} w={586} h={504}>
        <PanelFrame x={6} y={4} w={586} h={504} title="Flat top (amplitude, phase)" tx={17} />
        <Group x={12} y={41} w={640} h={90} label="Statistics" lx={17} />
        <Txt x={24} y={73} t="Amplitude:" b />
        <Txt x={99} y={73} t="AVG" b />
        <Txt x={134} y={73} t="1.814 V" />
        <Txt x={216} y={73} t="RMS" b />
        <Txt x={252} y={73} t="1.3208 V (72.803%)" />
        <Txt x={379} y={73} t="Power level:" b />
        <Txt x={462} y={73} t="0.000 kW 15.173 dBm" />
        <Txt x={24} y={103} t="Phase:" b />
        <Txt x={99} y={103} t="AVG" b />
        <Txt x={134} y={103} t="103.258 deg" />
        <Txt x={216} y={103} t="RMS" b />
        <Txt x={252} y={103} t="58.3324 deg" />
        <Check x={383} y={103} />
        <Txt x={400} y={103} t="Center AVG" />
        <QwtChart spec={TL_SPEC} />
        <PanelBorder x={6} y={4} w={586} h={504} />
      </Clip>

      {/* ---------- top-right panel ---------- */}
      <Clip x={593} y={4} w={1217} h={504}>
        <PanelFrame x={593} y={4} w={1217} h={504} title="Flat top (amplitude, phase)" tx={604} />
        <Icons y={20} />
        <Group x={599} y={41} w={484} h={90} label="Statistics" lx={606} />
        <Txt x={609} y={73} t="Amplitude:" b />
        <Txt x={684} y={73} t="AVG" b />
        <Txt x={718} y={73} t="0.209 kV" />
        <Txt x={796} y={73} t="RMS" b />
        <Txt x={831} y={73} t="0.1364 kV (65.393%)" />
        <Txt x={609} y={103} t="Phase:" b />
        <Txt x={684} y={103} t="AVG" b />
        <Txt x={718} y={103} t="10.170 deg" />
        <Txt x={796} y={103} t="RMS" b />
        <Txt x={831} y={103} t="16.3535 deg" />
        <Check x={968} y={103} />
        <Txt x={986} y={103} t="Center AVG" />
        <Group x={1096} y={41} w={253} h={90} label="Input signal" lx={1103} />
        <Txt x={1106} y={78} t="Amplitude:" b />
        <Txt x={1192} y={78} t="0.089 V" />
        <Txt x={1106} y={106} t="Power level:" b />
        <Txt x={1187} y={106} t="0.079 mW  -11.036 dBm" />
        <Group x={1592} y={41} w={216} h={90} label="Refresh rate" lx={1600} />
        <Slider x1={1603} x2={1721} hx={1719} y={90} />
        <Txt x={1752} y={90} t="1.00 Hz" />
        <QwtChart spec={TM_SPEC} />
        <QwtChart spec={TR_SPEC} />
        <PanelBorder x={593} y={4} w={1217} h={504} />
      </Clip>

      {/* ---------- bottom-left panel ---------- */}
      <Clip x={6} y={543} w={586} h={503}>
        <PanelFrame x={6} y={543} w={586} h={503} title="Flat top (amplitude, phase)" tx={17} />
        <Group x={12} y={581} w={476} h={90} label="Statistics" lx={17} />
        <Txt x={24} y={612} t="Amplitude:" b />
        <Txt x={99} y={612} t="AVG" b />
        <Txt x={136} y={612} t="0.300 kV" />
        <Txt x={206} y={612} t="RMS" b />
        <Txt x={241} y={612} t="0.0062 kV (2.055%)" />
        <Txt x={24} y={642} t="Phase:" b />
        <Txt x={99} y={642} t="AVG" b />
        <Txt x={136} y={642} t="-0.017 deg" />
        <Txt x={206} y={642} t="RMS" b />
        <Txt x={241} y={642} t="0.4687 deg" />
        <Check x={370} y={642} />
        <Txt x={390} y={642} t="Center AVG" />
        <Group x={497} y={581} w={200} h={90} label="Input signal" lx={504} />
        <Txt x={508} y={617} t="Amplitude:" b />
        <Txt x={508} y={645} t="Power level:" b />
        <QwtChart spec={BL_SPEC} />
        <PanelBorder x={6} y={543} w={586} h={503} />
      </Clip>

      {/* ---------- bottom-right panel ---------- */}
      <Clip x={593} y={543} w={1217} h={503}>
        <PanelFrame x={593} y={543} w={1217} h={503} title="Flat top (amplitude, phase)" tx={603} />
        <Icons y={560} />
        <Group x={598} y={581} w={481} h={90} label="Statistics" lx={604} />
        <Txt x={607} y={612} t="Amplitude:" b />
        <Txt x={682} y={612} t="AVG" b />
        <Txt x={716} y={612} t="0.300 kV" />
        <Txt x={789} y={612} t="RMS" b />
        <Txt x={825} y={612} t="0.0006 kV (0.198%)" />
        <Txt x={607} y={642} t="Phase:" b />
        <Txt x={682} y={642} t="AVG" b />
        <Txt x={716} y={642} t="-0.027 deg" />
        <Txt x={789} y={642} t="RMS" b />
        <Txt x={825} y={642} t="0.1251 deg" />
        <Check x={954} y={642} />
        <Txt x={972} y={642} t="Center AVG" />
        <Group x={1092} y={581} w={253} h={90} label="Input signal" lx={1099} />
        <Txt x={1104} y={617} t="Amplitude:" b />
        <Txt x={1104} y={645} t="Power level:" b />
        <Group x={1592} y={581} w={216} h={90} label="Refresh rate" lx={1600} />
        <Slider x1={1600} x2={1718} hx={1716} y={629} />
        <Txt x={1750} y={629} t="1.00 Hz" />
        <QwtChart spec={BM_SPEC} />
        <QwtChart spec={BR_SPEC} />
        <PanelBorder x={593} y={543} w={1217} h={503} />
      </Clip>

      <Overlay />
    </div>
  );
}
